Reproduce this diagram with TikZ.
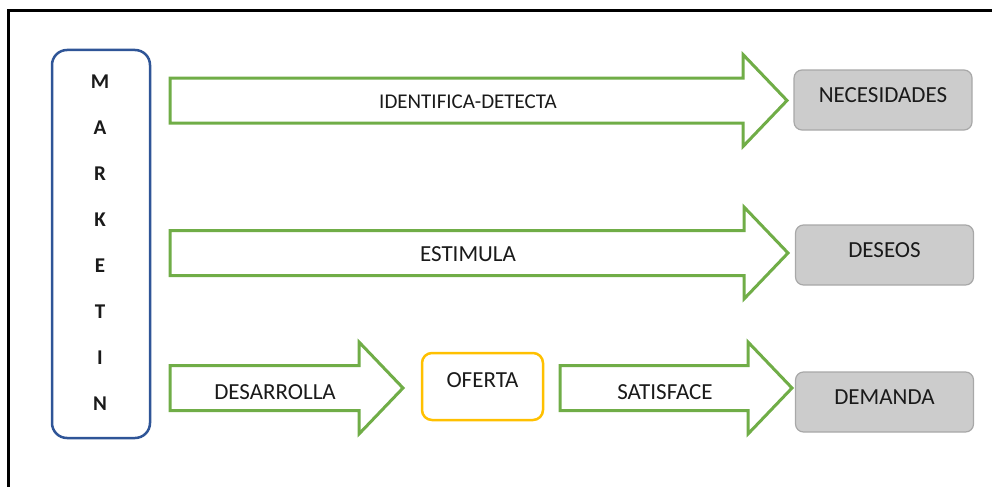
\documentclass[tikz,border=0pt]{standalone}
\usepackage{fontspec}
\setmainfont{Carlito}
\usetikzlibrary{positioning}

\definecolor{mkblue}{HTML}{2F5597}
\definecolor{arrgreen}{HTML}{70AD47}
\definecolor{ofgold}{HTML}{FFC000}
\definecolor{boxgray}{HTML}{CCCCCC}
\definecolor{boxedge}{HTML}{A8A8A8}
\definecolor{txt}{HTML}{1A1A1A}

% big hollow arrow: left x, tip x, middle y
\newcommand{\bigarrow}[3]{%
  \draw[bigarr] (#1,#3-22.5) -- (#2-44,#3-22.5) -- (#2-44,#3-46) -- (#2,#3)
    -- (#2-44,#3+46) -- (#2-44,#3+22.5) -- (#1,#3+22.5) -- cycle;}

\begin{document}
\begin{tikzpicture}[
  x=1pt, y=-1pt,
  lbl/.style={font=\fontsize{23}{27}\selectfont, text=txt, inner sep=0pt},
  letter/.style={font=\fontsize{21}{24}\selectfont\bfseries, text=txt, inner sep=0pt},
  mkbox/.style={draw=mkblue, line width=2.5pt, rounded corners=15pt,
    minimum width=98pt, minimum height=388pt},
  bigarr/.style={draw=arrgreen, line width=3pt, fill=white},
  graybox/.style={lbl, draw=boxedge, line width=1.2pt, fill=boxgray,
    rounded corners=8pt, minimum width=178pt, minimum height=60pt, text depth=10pt},
  ofbox/.style={lbl, draw=ofgold, line width=2.5pt, rounded corners=10pt,
    minimum width=121pt, minimum height=67pt, text depth=12pt}
]
\useasboundingbox (0,0) rectangle (992,487);

% frame
\draw[line width=3pt] (992,11) -- (8,11) -- (8,487);

% marketing column
\node[mkbox] (mkt) at (101,244) {};
\foreach \ch [count=\i from 0] in {M,A,R,K,E,T,I,N}
  \node[letter] (ltr\i) at (100,82+45.9*\i) {\ch};

% boxes
\node[graybox] (nec) at (883,100) {NECESIDADES};
\node[graybox] (des) at (884.5,255) {DESEOS};
\node[graybox] (dem) at (884.5,402) {DEMANDA};
\node[ofbox] (ofe) at (482.5,386.5) {OFERTA};

% arrows
\bigarrow{170}{787}{100.5}
\bigarrow{170}{788}{253}
\bigarrow{170}{403}{388}
\bigarrow{560}{792}{388}

% arrow labels
\node[lbl, font=\fontsize{21}{25}\selectfont] (idt) at (468,102) {IDENTIFICA-DETECTA};
\node[lbl] (est) at (468,254) {ESTIMULA};
\node[lbl] (dsr) at (275,392) {DESARROLLA};
\node[lbl] (sat) at (665,392) {SATISFACE};

\end{tikzpicture}
\end{document}
